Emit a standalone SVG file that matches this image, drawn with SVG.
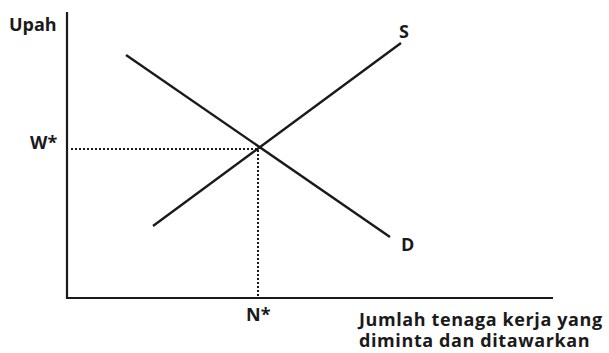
<svg xmlns="http://www.w3.org/2000/svg" width="609" height="353" viewBox="0 0 609 353">
<style>
.t{font-family:"Open Sans","Liberation Sans",sans-serif;font-weight:700;fill:#1a1a1a}
.xl{font-size:18px;letter-spacing:0.6px}
.ax{stroke:#1a1a1a;stroke-width:2.2;fill:none}
.ln{stroke:#1a1a1a;stroke-width:2.4;fill:none}
.dt{stroke:#1a1a1a;stroke-width:2;stroke-dasharray:2 2;fill:none}
</style>
<rect width="609" height="353" fill="#fff"/>
<g id="axes">
<path class="ax" d="M67 12 V298 H553"/>
</g>
<g id="connectors">
<path class="ln" d="M126 55 L390 237"/>
<path class="ln" d="M153 226 L401 43"/>
<path class="dt" d="M71 149 H258 V297"/>
</g>
<g id="label-upah"><text class="t" x="9" y="31" font-size="18">Upah</text></g>
<g id="label-w"><text class="t" x="30" y="149" font-size="18">W*</text></g>
<g id="label-n"><text class="t" x="246" y="321" font-size="18">N*</text></g>
<g id="label-s"><text class="t" x="399" y="38" font-size="18">S</text></g>
<g id="label-d"><text class="t" x="401" y="251" font-size="18">D</text></g>
<g id="label-x1"><text class="t xl" x="359" y="326">Jumlah tenaga kerja yang</text></g>
<g id="label-x2"><text class="t xl" x="359" y="347">diminta dan ditawarkan</text></g>
</svg>
